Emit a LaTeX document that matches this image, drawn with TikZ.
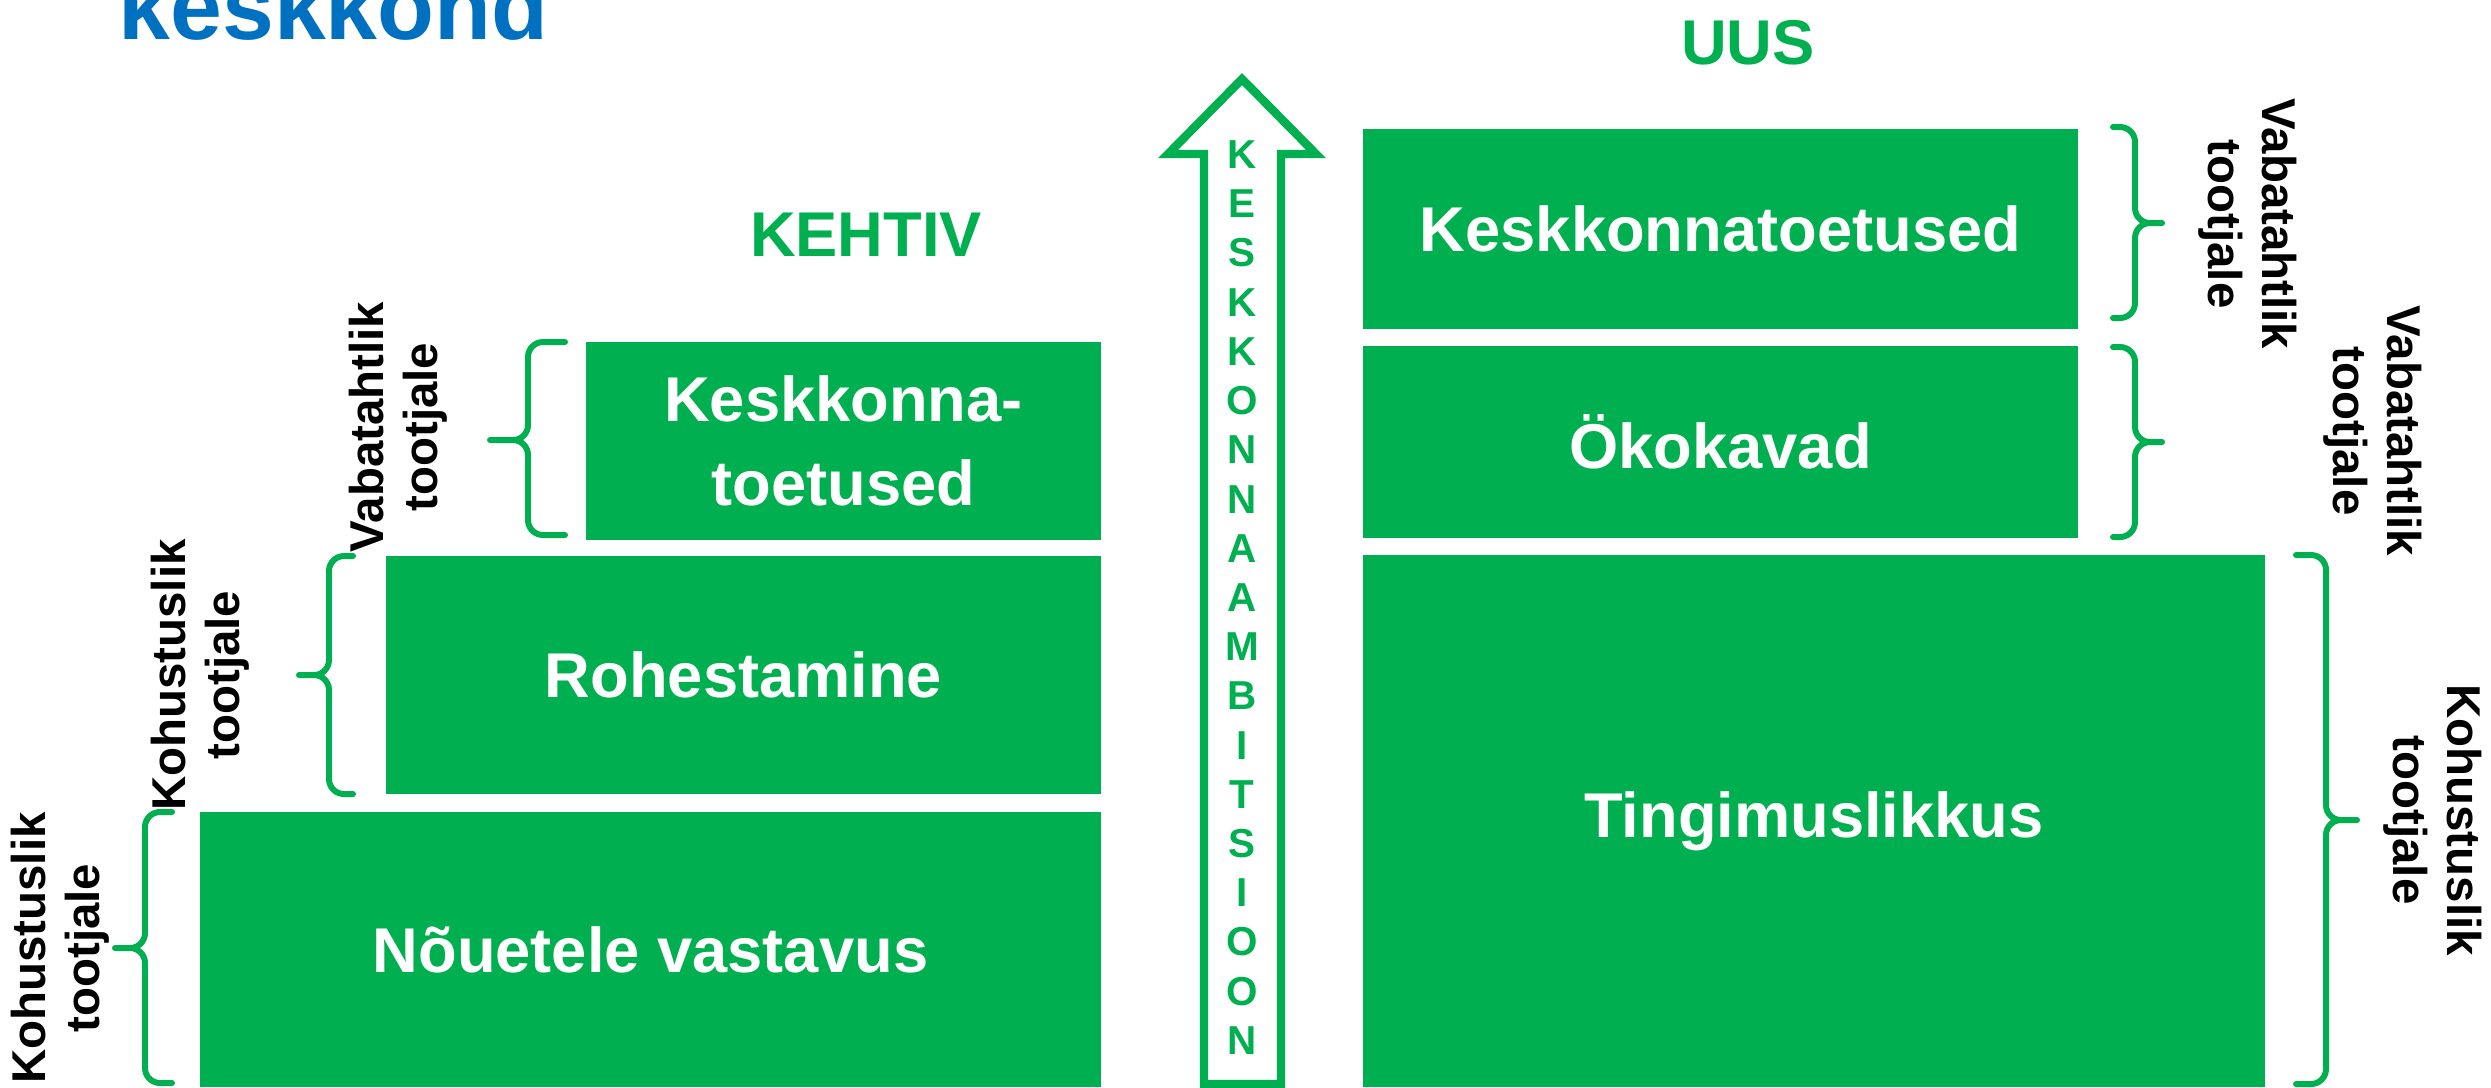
\documentclass[tikz,border=0pt]{standalone}
\usepackage{fontspec}
\setmainfont{Liberation Sans}
\usepackage{xcolor}
\definecolor{ecogreen}{RGB}{0, 176, 80}
\definecolor{titleblue}{RGB}{0, 112, 192}

\begin{document}
\begin{tikzpicture}[
    y=-1cm,
    box/.style={rectangle, fill=ecogreen, text=white, font=\fontsize{18}{24}\selectfont\bfseries, align=center, inner sep=0pt},
    brace/.style={draw=ecogreen, line width=1.7pt, rounded corners=1.5mm, line cap=round},
    sidelabel/.style={font=\fontsize{13.5}{15.5}\selectfont\bfseries, align=center, inner sep=0pt},
    heading/.style={text=ecogreen, font=\fontsize{18}{22}\selectfont\bfseries}
]
    \useasboundingbox (0,0) rectangle (24.91,10.87);

    % Title
    \node[text=titleblue, font=\fontsize{26.5}{30}\selectfont\bfseries, anchor=base west, inner sep=0pt] (title) at (1.18,0.39) {keskkond};

    % Current (left)
    \node[heading] (kehtiv) at (8.66,2.35) {KEHTIV};
    \node[box, minimum width=9.01cm, minimum height=2.75cm] (nou) at (6.505,9.495) {Nõuetele vastavus};
    \node[box, minimum width=7.15cm, minimum height=2.38cm] (roh) at (7.435,6.75) {Rohestamine};
    \node[box, minimum width=5.15cm, minimum height=1.98cm] (kesk) at (8.435,4.41) {Keskkonna-\\toetused};

    \draw[brace] (1.72,8.12) -| (1.45,9.48) -- (1.15,9.48) (1.72,10.83) -| (1.45,9.48) -- (1.15,9.48);
    \draw[brace] (3.53,5.56) -| (3.29,6.75) -- (2.99,6.75) (3.53,7.94) -| (3.29,6.75) -- (2.99,6.75);
    \draw[brace] (5.65,3.42) -| (5.28,4.40) -- (4.90,4.40) (5.65,5.35) -| (5.28,4.40) -- (4.90,4.40);

    \node[sidelabel, rotate=90] (lab1) at (0.60,9.48) {Kohustuslik\\tootjale};
    \node[sidelabel, rotate=90] (lab2) at (2.00,6.75) {Kohustuslik\\tootjale};
    \node[sidelabel, rotate=90] (lab3) at (3.98,4.27) {Vabatahtlik\\tootjale};

    % Ambition arrow
    \draw[draw=ecogreen, line width=2.4pt] (12.04,10.84) -- (12.04,1.54) -- (11.68,1.54) -- (12.42,0.79) -- (13.16,1.54) -- (12.81,1.54) -- (12.81,10.84) -- cycle;
    \node[text=ecogreen, font=\fontsize{11.5}{14}\selectfont\bfseries, align=center, inner sep=0pt] (ambition) at (12.42,5.975) {K\\E\\S\\K\\K\\O\\N\\N\\A\\A\\M\\B\\I\\T\\S\\I\\O\\O\\N};

    % New (right)
    \node[heading] (uus) at (17.48,0.43) {UUS};
    \node[box, minimum width=7.15cm, minimum height=2.0cm] (kt) at (17.205,2.29) {Keskkonnatoetused};
    \node[box, minimum width=7.15cm, minimum height=1.92cm] (oko) at (17.205,4.42) {Ökokavad};
    \node[box, minimum width=9.02cm, minimum height=5.32cm] (ting) at (18.14,8.21) {Tingimuslikkus};

    \draw[brace] (21.13,1.27) -| (21.35,2.23) -- (21.62,2.23) (21.13,3.18) -| (21.35,2.23) -- (21.62,2.23);
    \draw[brace] (21.13,3.47) -| (21.35,4.42) -- (21.62,4.42) (21.13,5.37) -| (21.35,4.42) -- (21.62,4.42);
    \draw[brace] (22.96,5.55) -| (23.26,8.20) -- (23.57,8.20) (22.96,10.84) -| (23.26,8.20) -- (23.57,8.20);

    \node[sidelabel, rotate=-90] (labA) at (22.48,2.24) {Vabatahtlik\\tootjale};
    \node[sidelabel, rotate=-90] (labB) at (23.73,4.31) {Vabatahtlik\\tootjale};
    \node[sidelabel, rotate=-90] (labC) at (24.33,8.20) {Kohustuslik\\tootjale};
\end{tikzpicture}
\end{document}
